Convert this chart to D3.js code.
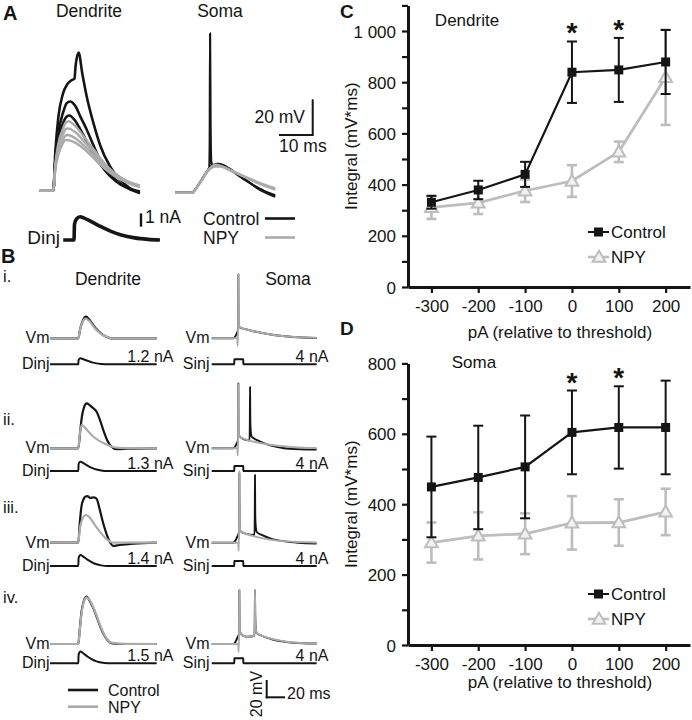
<!DOCTYPE html>
<html><head><meta charset="utf-8">
<script src="https://cdn.jsdelivr.net/npm/d3@7"></script>
<style>body{margin:0;background:#fff}svg{display:block}</style>
</head><body>
<svg id="fig" width="692" height="720"></svg>
<script>
// ---------------- DATA ----------------
const doses = [-300, -200, -100, 0, 100, 200];
const dendControl = [331, 379, 440, 839, 848, 879];
const dendControlSem = [25, 36, 49, 120, 125, 125];
const dendNpy = [311, 329, 376, 414, 528, 819];
const dendNpySem = [45, 44, 44, 62, 40, 186];
const somaControl = [449, 476, 506, 604, 618, 618];
const somaControlSem = [143, 147, 146, 119, 117, 133];
const somaNpy = [291, 310, 316, 347, 348, 378];
const somaNpySem = [57, 67, 58, 76, 66, 66];
const sigDoses = [0, 100];
const dendTicks = [0,100,200,300,400,500,600,700,800,900,1000,1100];
const somaTicks = [0,100,200,300,400,500,600,700,800];

// Panel A traces: [ms, mV]
const aDendControl = [
 [[-4,0],[0,0],[0.6,22],[1.5,42],[2.8,55],[4.2,61],[5.3,63],[6.3,64],[6.6,71],[7.5,79],[8.6,67],[9.9,54],[12,38],[13.9,26],[16.8,14],[20,6],[23,1],[25.7,-1.5]],
 [[-4,0],[0,0],[0.6,18],[1.5,33],[2.8,44],[4,50],[5,51],[6.5,48.5],[8,42.5],[9.9,35],[12,25.5],[13.9,17.5],[16.8,9.5],[20,4],[23,0.5],[25.7,-1]],
 [[-4,0],[0,0],[0.6,16],[1.5,29],[2.8,38],[3.8,42],[4.7,43],[6.5,40],[8,35],[10,28],[12,21],[14,15],[17,8],[20,3.5],[23,1],[25.7,-0.5]]
];
const aDendNpy = [
 [[-4,0],[0,0],[0.6,15],[1.5,27],[2.8,35],[3.7,39],[4.5,39.6],[6.5,37],[9,31],[12,23.5],[15,16],[18,10.5],[21.5,6],[25.7,3]],
 [[-4,0],[0,0],[0.6,14],[1.5,25],[2.8,32],[3.6,35],[4.3,35.6],[6.5,33.5],[9,28.5],[12,22],[15,15],[18,10],[21.5,5.5],[25.7,2.5]],
 [[-4,0],[0,0],[0.6,13],[1.5,22],[2.8,29],[3.5,31.3],[4.2,31.8],[6.5,30],[9,26],[12,20],[15,14],[18,9],[21.5,5],[25.7,2]],
 [[-4,0],[0,0],[0.6,12],[1.5,20.5],[2.8,27],[3.4,28.7],[4,29],[6.5,27.5],[9,24],[12,18.5],[15,13],[18,8.5],[21.5,5],[25.7,2.5]]
];
const aSomaControl = [
 [[-4.9,0],[0,0],[1.5,3],[3,7.5],[4.5,12],[5.2,14],[5.35,30],[5.45,91],[5.6,40],[5.8,18],[6.3,15],[7.5,16.5],[9,16],[11,14],[14,10],[17,6],[20,2],[22.5,-0.5],[24.8,-2.3]],
 [[-4.9,0],[0,0],[1.5,3],[3,7.5],[4.5,12],[5.4,14.5],[6.5,16],[8,16.5],[10,15],[13,11],[16,7],[19,3.5],[22,0.5],[24.8,-1.5]]
];
const aSomaNpy = [
 [[-4.9,0],[0,0],[1.5,3],[3,7.5],[4.5,12],[5.4,14],[7,16],[8.5,15.5],[11,13.5],[14,10.8],[17,8.2],[20,5.8],[24.8,2.5]],
 [[-4.9,0],[0,0],[1.5,3],[3,7],[4.5,11.5],[5.4,13.5],[7,15],[8.5,15],[11,13],[14,10.5],[17,7.8],[20,5.2],[24.8,1.8]]
];
const aDinj = [[-3.2,0],[0,0],[0.15,1.2],[0.8,1.6],[1.8,1.75],[3,1.65],[5,1.4],[8,1.0],[11,0.65],[14,0.38],[18,0.16],[22,0.05],[25.5,0]];

// Panel B traces
const bRowLabels = ["i.", "ii.", "iii.", "iv."];
const bDinjLabels = ["1.2 nA", "1.3 nA", "1.4 nA", "1.5 nA"];
const bSinjLabel = "4 nA";
const bDinj = [
 [[-30.9,0],[0,0],[0.3,0.55],[1.2,0.7],[2.5,0.77],[5,0.68],[10,0.45],[15,0.25],[20,0.12],[25,0.05],[32,0],[85.7,0]],
 [[-30.9,0],[0,0],[0.3,0.85],[1.2,1.1],[2.5,1.19],[5,1.05],[10,0.7],[15,0.4],[20,0.19],[25,0.07],[32,0],[85.7,0]],
 [[-30.9,0],[0,0],[0.3,1.0],[1.2,1.3],[2.5,1.41],[5,1.24],[10,0.82],[15,0.47],[20,0.22],[25,0.08],[32,0],[85.7,0]],
 [[-30.9,0],[0,0],[0.3,1.05],[1.2,1.38],[2.5,1.5],[5,1.32],[10,0.87],[15,0.5],[20,0.24],[25,0.09],[32,0],[85.7,0]]
];
const bSinj = [[-24.7,0],[0,0],[0.05,4],[9.8,4],[9.85,0],[90,0]];
const bDendControl = [
 [[-30.9,0],[0,0],[2,10],[5,19.5],[8.4,23.6],[12,20.5],[18,12],[24,6],[30,2],[36,0],[85.7,0]],
 [[-30.9,0],[0,0],[2,18],[4,35],[6,44],[9.2,49],[12,47.5],[16,44],[20,40],[24,30],[28,18],[32,8],[36,2],[42,-1],[55,-0.5],[85.7,0]],
 [[-30.9,0],[0,0],[1.5,20],[3.5,40],[6,48],[8,50.5],[10,51],[13,49],[17,49.5],[20,48],[23,38],[27,22],[31,9],[34.6,0.5],[38,-3.5],[45,-2.5],[60,-1],[85.7,0]],
 [[-30.9,0],[0,0],[1.5,15],[3.5,35],[6,47],[9.2,51.7],[12,48],[16,40],[20,30],[24,19],[28,10],[32,4],[36,1],[45,0],[85.7,0]]
];
const bDendNpy = [
 [[-30.9,0],[0,0],[2,10],[5,18.5],[8,21.5],[12,19],[18,11],[24,5.5],[30,2],[36,0],[85.7,0]],
 [[-30.9,0],[0,0],[1.5,14],[3.7,25.5],[6,24],[10,19.5],[15,14],[20,10],[25,7],[30,4.5],[36,2],[45,0.5],[85.7,0]],
 [[-30.9,0],[0,0],[1.5,14],[4,25],[8.4,30.3],[12,28],[17,21],[22,14],[27,8],[32,3],[38,0],[85.7,0]],
 [[-30.9,0],[0,0],[1.5,14],[3.5,33],[6,46],[9.2,51],[12,48.5],[16,41],[20,31],[24,20],[28,11],[32,4.5],[36,1.5],[45,0.5],[85.7,0]]
];
const bSomaControl = [
 [[-24.7,0],[-1,0],[1,2],[2.5,5],[3.8,8],[4.2,12],[4.4,70],[4.6,22],[5,14],[6.4,11.7],[10,10.5],[20,8],[35,5],[55,2.2],[75,0.8],[90,0.3]],
 [[-24.7,0],[-1,0],[1,2],[2.5,5],[3.8,8],[4.2,12],[4.4,71],[4.6,22],[5,14],[6.4,12.5],[10,10],[16.7,8.5],[17,30],[17.2,67],[17.5,30],[18.2,16],[19,12.7],[25,9],[35,4.5],[46,1.7],[60,-0.5],[90,-1.4]],
 [[-24.7,0],[-1,0],[1,2],[2.5,5],[4,8],[5.2,12],[5.5,76],[5.7,22],[6.2,14],[7.5,12],[12,10],[22.1,8.5],[22.4,30],[22.6,74],[22.9,30],[23.6,16],[24.5,11.7],[30,8.5],[40,4.5],[55,1.5],[70,0],[90,-0.8]],
 [[-24.7,0],[-1,0],[1,2],[2.5,5],[4,8],[5.2,12],[5.5,59],[5.7,22],[6.2,14],[7.5,11],[10,9],[15,8],[22.1,9],[22.4,30],[22.6,59],[22.9,30],[23.6,16],[24.5,12],[30,9],[40,5.5],[55,2.5],[75,0.8],[90,0.5]]
];
const bSomaNpy = [
 [[-24.7,0],[0,0],[3.2,0],[3.8,-8.4],[4.2,15],[4.4,70],[4.7,25],[5.2,14],[6.4,12],[10,10.5],[20,8],[35,5],[55,2.3],[75,1],[90,0.5]],
 [[-24.7,0],[0,0],[3.2,0],[3.8,-8],[4.2,15],[4.4,70],[4.7,25],[5.2,14],[6.2,12.3],[10,10.5],[20,7.5],[28,5.8],[45,3],[65,1.2],[90,0.3]],
 [[-24.7,0],[0,0],[4.2,0],[4.8,-8.7],[5.2,15],[5.5,78],[5.8,25],[6.3,14],[7.5,12],[12,10],[20,7.5],[30,5],[45,2.5],[65,1],[90,0.3]],
 [[-24.7,0],[0,0],[4.2,0],[4.8,-8.7],[5.2,15],[5.5,59],[5.8,25],[6.3,14],[7.5,11],[10,9],[15,8],[22.1,9],[22.4,30],[22.6,59],[22.9,30],[23.6,16],[24.5,12],[30,9.2],[40,5.8],[55,2.8],[75,1],[90,0.6]]
];

// ---------------- LAYOUT / STYLE ----------------
const FONT = "'Liberation Sans', Arial, Helvetica, sans-serif";
const BLACK = "#151515", GREY = "#ababab", CGREY = "#bdbdbd";
const svg = d3.select("#fig");

function txt(x, y, s, o = {}) {
  const t = svg.append("text").attr("x", x).attr("y", y).text(s)
    .attr("font-family", FONT).attr("font-size", o.size || 17)
    .attr("fill", o.fill || BLACK)
    .attr("text-anchor", o.anchor || "start");
  if (o.bold) t.attr("font-weight", "bold");
  if (o.rotate) t.attr("transform", `rotate(${o.rotate},${x},${y})`);
  return t;
}
function trace(data, xs, ys, color, w) {
  svg.append("path").datum(data)
    .attr("d", d3.line().x(d => xs(d[0])).y(d => ys(d[1])).curve(d3.curveMonotoneX))
    .attr("fill", "none").attr("stroke", color).attr("stroke-width", w)
    .attr("stroke-linejoin", "round").attr("stroke-linecap", "butt");
}
function seg(x1, y1, x2, y2, w, c) {
  svg.append("line").attr("x1", x1).attr("y1", y1).attr("x2", x2).attr("y2", y2)
    .attr("stroke", c || BLACK).attr("stroke-width", w);
}

// ---------------- PANEL A ----------------
const xAd = d3.scaleLinear([0, 10], [53.3, 87]);
const yAd = d3.scaleLinear([0, 20], [190.7, 155.7]);
const xAs = d3.scaleLinear([0, 10], [191.7, 225.4]);
const yAs = d3.scaleLinear([0, 20], [192.7, 157.7]);
const xAi = d3.scaleLinear([0, 10], [74, 107.7]);
const yAi = d3.scaleLinear([0, 1], [240, 226.7]);

txt(3, 20, "A", {size: 20, bold: true});
txt(89, 17, "Dendrite", {size: 17.5, anchor: "middle"});
txt(220, 17, "Soma", {size: 17.5, anchor: "middle"});
aDendControl.forEach(d => trace(d, xAd, yAd, BLACK, 2.6));
aDendNpy.forEach(d => trace(d, xAd, yAd, GREY, 2.4));
aSomaControl.forEach(d => trace(d, xAs, yAs, BLACK, 2.2));
aSomaNpy.forEach(d => trace(d, xAs, yAs, GREY, 2.4));
trace(aDinj, xAi, yAi, BLACK, 3.6);
txt(60, 243.5, "Dinj", {size: 19, anchor: "end"});
// scale bars A
seg(312.7, yAd(0) - 55.7, 312.7, yAd(0) - 55.7 - (yAd(0) - yAd(20)) - 0.7, 2);
seg(312.7 - (xAd(10) - xAd(0)), 135, 313.7, 135, 2);
txt(305, 123, "20 mV", {size: 17.5, anchor: "end"});
txt(279, 151.5, "10 ms", {size: 17.5});
seg(141, yAi(0) - 13.3, 141, yAi(0) - 13.3 - (yAi(0) - yAi(1)), 2.4);
txt(145, 223, "1 nA", {size: 17.5});
txt(203, 225, "Control", {size: 17.5});
seg(265, 218.5, 295, 218.5, 2.6, BLACK);
txt(203, 244, "NPY", {size: 17.5});
seg(265, 237.5, 295, 237.5, 2.6, GREY);

// ---------------- PANEL B ----------------
const bLayout = [
  {labelY: 282, vm: 338.3, inj: 364.3},
  {labelY: 425, vm: 448.3, inj: 471},
  {labelY: 513, vm: 542.7, inj: 566},
  {labelY: 603, vm: 644, inj: 663.3}
];
const xBd = d3.scaleLinear([0, 20], [78.3, 96.6]);
const xBs = d3.scaleLinear([0, 20], [234.3, 252.6]);
txt(1, 263, "B", {size: 20, bold: true});
txt(108, 285, "Dendrite", {size: 17.5, anchor: "middle"});
txt(288, 285, "Soma", {size: 17.5, anchor: "middle"});
bRowLabels.forEach((lab, i) => {
  const L = bLayout[i];
  const yV = d3.scaleLinear([0, 20], [L.vm, L.vm - 18.3]);
  const yDi = d3.scaleLinear([0, 1], [L.inj, L.inj - 7.8]);
  const ySi = d3.scaleLinear([0, 4], [L.inj, L.inj - 5]);
  txt(3, L.labelY, lab, {size: 16.5});
  trace(bDendControl[i], xBd, yV, BLACK, 2.2);
  trace(bDendNpy[i], xBd, yV, GREY, 2.2);
  trace(bSomaControl[i], xBs, yV, BLACK, 1.9);
  trace(bSomaNpy[i], xBs, yV, GREY, 1.9);
  trace(bDinj[i], xBd, yDi, BLACK, 2);
  trace(bSinj, xBs, ySi, BLACK, 2);
  txt(49.5, L.vm + 5, "Vm", {size: 16, anchor: "end"});
  txt(209.5, L.vm + 5, "Vm", {size: 16, anchor: "end"});
  txt(49.5, L.inj + 4.5, "Dinj", {size: 16, anchor: "end"});
  txt(209.5, L.inj + 4.5, "Sinj", {size: 16, anchor: "end"});
  txt(173.5, L.inj - 2.5, bDinjLabels[i], {size: 16, anchor: "end"});
  txt(328.5, L.inj - 2.5, bSinjLabel, {size: 16, anchor: "end"});
});
seg(68, 690, 98, 690, 2.6, BLACK);
txt(108, 695.5, "Control", {size: 16});
seg(68, 706.7, 98, 706.7, 2.6, GREY);
txt(108, 712.5, "NPY", {size: 16});
seg(266.7, 698.3, 266.7, 698.3 - 18.3, 2);
seg(265.7, 697.3, 266.7 + (xBs(20) - xBs(0)), 697.3, 2);
txt(262, 694, "20 mV", {size: 16, anchor: "middle", rotate: -90});
txt(287, 699, "20 ms", {size: 16});

// ---------------- PANELS C & D ----------------
const xDose = d3.scaleLinear([-350, 252], [408, 690]);

function chart(cfg) {
  const y = cfg.y;
  const g = svg.append("g");
  const ya = g.append("g").attr("transform", "translate(408,0)")
    .call(d3.axisLeft(y).tickValues(cfg.ticks).tickSize(6).tickSizeOuter(0).tickPadding(6)
      .tickFormat(v => v % 200 === 0 ? (v === 1000 ? "1 000" : String(v)) : ""));
  const xa = g.append("g").attr("transform", `translate(0,${y(0)})`)
    .call(d3.axisBottom(xDose).tickValues(doses).tickSize(6).tickSizeOuter(0).tickPadding(7)
      .tickFormat(d => String(d)));
  [ya, xa].forEach(a => {
    a.attr("font-family", FONT).attr("font-size", 17);
    a.select(".domain").attr("stroke", BLACK).attr("stroke-width", 3);
    a.selectAll(".tick line").attr("stroke", BLACK).attr("stroke-width", 2.2);
    a.selectAll(".tick text").attr("fill", BLACK);
  });
  ya.selectAll(".tick text").attr("dy", "0.36em");
  const series = [
    {v: cfg.npy, e: cfg.npySem, c: CGREY, w: 2.6, tri: true},
    {v: cfg.ctl, e: cfg.ctlSem, c: BLACK, w: 2, tri: false}
  ];
  series.forEach(s => {
    doses.forEach((d, i) => {
      const x = xDose(d);
      seg(x, y(s.v[i] - s.e[i]), x, y(s.v[i] + s.e[i]), s.w, s.c);
      seg(x - 5, y(s.v[i] + s.e[i]), x + 5, y(s.v[i] + s.e[i]), s.w, s.c);
      seg(x - 5, y(s.v[i] - s.e[i]), x + 5, y(s.v[i] - s.e[i]), s.w, s.c);
    });
    svg.append("path").datum(s.v)
      .attr("d", d3.line().x((v, i) => xDose(doses[i])).y(v => y(v)))
      .attr("fill", "none").attr("stroke", s.c).attr("stroke-width", s.w + 0.2);
    doses.forEach((d, i) => {
      if (s.tri) {
        svg.append("path").attr("d", d3.symbol(d3.symbolTriangle, 70)())
          .attr("transform", `translate(${xDose(d)},${y(s.v[i]) + 1})`)
          .attr("fill", "#f2f2f2").attr("stroke", s.c).attr("stroke-width", 2);
      } else {
        svg.append("rect").attr("x", xDose(d) - 4.5).attr("y", y(s.v[i]) - 4.5)
          .attr("width", 9).attr("height", 9).attr("fill", BLACK);
      }
    });
  });
  sigDoses.forEach(d => {
    const i = doses.indexOf(d);
    txt(xDose(d), y(cfg.ctl[i] + cfg.ctlSem[i]) + 1, "*", {size: 28, bold: true, anchor: "middle"});
  });
  txt(cfg.letterX, cfg.letterY, cfg.letter, {size: 19, bold: true});
  txt(cfg.nameX, cfg.nameY, cfg.name, {size: 17, anchor: "middle"});
  const yMid = (y.range()[0] + y.range()[1]) / 2;
  txt(357, yMid, "Integral (mV*ms)", {size: 17, anchor: "middle", rotate: -90});
  txt(560, cfg.xTitleY, "pA (relative to threshold)", {size: 17, anchor: "middle"});
  const ly = cfg.legendY;
  seg(588, ly, 609, ly, 2, BLACK);
  svg.append("rect").attr("x", 594).attr("y", ly - 4.5).attr("width", 9).attr("height", 9).attr("fill", BLACK);
  txt(611, ly + 6, "Control", {size: 17});
  seg(588, ly + 25, 609, ly + 25, 2.6, CGREY);
  svg.append("path").attr("d", d3.symbol(d3.symbolTriangle, 70)())
    .attr("transform", `translate(599,${ly + 26})`)
    .attr("fill", "#f2f2f2").attr("stroke", CGREY).attr("stroke-width", 2);
  txt(611, ly + 31, "NPY", {size: 17});
}

chart({
  y: d3.scaleLinear([0, 1100], [287, 5.4]), ticks: dendTicks,
  ctl: dendControl, ctlSem: dendControlSem, npy: dendNpy, npySem: dendNpySem,
  letter: "C", letterX: 340, letterY: 17.5, name: "Dendrite", nameX: 467, nameY: 26,
  xTitleY: 338, legendY: 232
});
chart({
  y: d3.scaleLinear([0, 800], [645, 363.4]), ticks: somaTicks,
  ctl: somaControl, ctlSem: somaControlSem, npy: somaNpy, npySem: somaNpySem,
  letter: "D", letterX: 340, letterY: 335, name: "Soma", nameX: 474, nameY: 368,
  xTitleY: 688, legendY: 594
});
</script>
</body></html>
